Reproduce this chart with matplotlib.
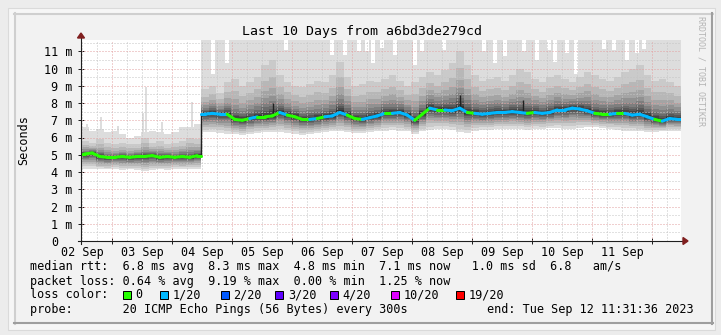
#!/usr/bin/env python3
# SmokePing style graph: 10 days of ping RTT with "smoke" and loss-coloured median
import datetime as dt
import numpy as np
import matplotlib
matplotlib.use('Agg')
import matplotlib.pyplot as plt
import matplotlib.transforms as mtransforms
from matplotlib.patches import Rectangle, Polygon
from matplotlib.lines import Line2D
from matplotlib.collections import LineCollection

W, H = 721, 335

start = dt.datetime(2023, 9, 2, 11, 31, 36)
span_hours = 240
step_hours = 3

# median rtt (ms), one value per 3 hours
median = [5.05, 5.1, 4.9, 4.85, 4.85, 4.9, 4.85, 4.9, 4.9, 4.95, 4.85, 4.9, 4.85, 4.9, 4.85, 4.95,
          7.35, 7.4, 7.35, 7.35, 7.05, 7.0, 7.1, 7.2, 7.2, 7.25,
          7.45, 7.3, 7.2, 7.05, 7.05, 7.1, 7.2, 7.25, 7.45, 7.3,
          7.1, 7.05, 7.15, 7.25, 7.4, 7.4, 7.45, 7.3, 7.0, 7.35,
          7.7, 7.6, 7.6, 7.55, 7.7, 7.45, 7.4, 7.35, 7.4, 7.45,
          7.45, 7.5, 7.45, 7.4, 7.45, 7.4, 7.45, 7.6, 7.6, 7.7,
          7.65, 7.55, 7.4, 7.35, 7.35, 7.4, 7.4, 7.3, 7.35, 7.2,
          7.05, 6.95, 7.1, 7.05]

# lost pings out of 20 -> index into loss_colors (0 = 0, 1 = 1/20)
loss = [0] * 16 + [1, 1, 1, 1, 0, 0, 0, 1, 0, 0,
                   0, 1, 0, 0, 0, 1, 0, 1, 1, 1,
                   0, 0, 1, 1, 1, 0, 1, 1, 1, 0,
                   0, 1, 0, 1, 1, 1, 0, 1, 1, 1,
                   1, 1, 1, 1, 0, 1, 1, 1, 1, 1,
                   1, 1, 1, 0, 0, 1, 0, 1, 1, 1,
                   1, 0, 1, 1]

# smoke: lowest ping, upper edge of the mid-grey part, highest ping
smoke_lo = [4.2, 4.2, 4.15, 4.15, 4.2, 4.1, 4.15, 4.1, 4.05, 4.1, 4.15, 4.1, 4.2, 4.15, 4.2, 4.2,
            6.3, 6.3, 6.25, 6.2, 6.2, 6.15, 6.2, 6.25, 6.3, 6.3,
            6.3, 6.25, 6.2, 6.15, 6.2, 6.25, 6.3, 6.35, 6.35, 6.3,
            6.25, 6.25, 6.3, 6.35, 6.4, 6.45, 6.4, 6.35, 6.2, 6.35,
            6.45, 6.5, 6.5, 6.45, 6.3, 6.25, 6.4, 6.45, 6.45, 6.5,
            6.5, 6.5, 6.5, 6.45, 6.5, 6.5, 6.55, 6.55, 6.5, 6.5,
            6.55, 6.6, 6.6, 6.55, 6.5, 6.45, 6.4, 6.4, 6.35, 6.3,
            6.3, 6.35, 6.4, 6.4]
smoke_mid = [5.8, 5.7, 5.9, 5.7, 5.6, 5.7, 5.6, 5.6, 6.0, 5.7, 5.8, 5.6, 5.7, 5.8, 6.0, 5.9,
             8.8, 9.0, 8.6, 9.2, 9.4, 9.0, 9.2, 9.5, 10.2, 10.5,
             9.6, 9.2, 9.0, 8.9, 9.1, 9.3, 9.2, 9.6, 10.4, 9.5,
             9.0, 9.1, 9.3, 9.2, 9.4, 9.6, 9.3, 9.0, 9.2, 9.5,
             9.8, 9.6, 9.9, 10.3, 11.0, 10.2, 9.6, 9.3, 9.4, 9.5,
             9.3, 9.6, 10.0, 9.8, 9.4, 9.2, 9.5, 9.6, 9.4, 9.2,
             9.5, 9.8, 9.6, 9.4, 9.3, 9.5, 9.8, 10.0, 10.2, 9.6,
             9.3, 9.4, 9.2, 9.0]
smoke_hi = [6.6, 6.4, 6.5, 6.3, 6.4, 6.2, 6.0, 6.1, 6.3, 6.4, 6.3, 6.2, 6.3, 6.6, 6.6, 6.8,
            11.7, 11.7, 11.7, 11.7, 11.7, 11.7, 11.7, 11.7, 11.7, 11.7,
            11.7, 11.7, 11.7, 11.7, 11.7, 11.7, 11.7, 11.7, 11.7, 11.7,
            11.7, 11.7, 11.7, 11.7, 11.7, 11.7, 11.7, 11.7, 11.7, 11.7,
            11.7, 11.7, 11.7, 11.7, 11.7, 11.7, 11.7, 11.7, 11.7, 11.7,
            11.7, 11.7, 11.7, 11.7, 11.7, 11.7, 11.7, 11.7, 11.7, 11.7,
            11.7, 11.7, 11.7, 11.7, 11.7, 11.7, 11.7, 11.7, 11.7, 11.7,
            11.7, 11.7, 11.7, 11.7]

# short-lived high pings (hour since start, ms)
spike_hours = [2.4, 8.0, 14.8, 24.8, 26.0, 32.4, 44.4]
spike_vals = [6.8, 7.2, 6.65, 7.4, 8.9, 6.9, 8.05]

# columns where the highest ping stays under the top of the chart
gap_hours = [52.6, 58.2, 81.8, 100.2, 105.4, 111.0, 114.2, 116.8, 120.2, 125.6, 133.6, 136.6,
             145.0, 161.0, 165.6, 169.6, 177.0, 182.4, 187.0, 189.4, 194.4, 197.8, 209.0,
             213.0, 218.4, 222.4, 225.0]
gap_tops = [9.7, 10.3, 11.05, 10.8, 10.8, 11.0, 11.0, 10.3, 11.2, 10.8, 10.2, 11.0,
            11.1, 11.0, 10.3, 10.7, 11.0, 10.5, 11.05, 10.4, 10.9, 9.7, 11.15,
            11.05, 10.5, 10.9, 11.15]

# one-sample median spikes
med_spike_hours = [76.8, 151.6, 176.8]
med_spike_vals = [8.0, 8.45, 8.15]

day_labels = ['02 Sep', '03 Sep', '04 Sep', '05 Sep', '06 Sep',
              '07 Sep', '08 Sep', '09 Sep', '10 Sep', '11 Sep']
y_labels = ['0', '1 m', '2 m', '3 m', '4 m', '5 m', '6 m',
            '7 m', '8 m', '9 m', '10 m', '11 m']

loss_names = ['0', '1/20', '2/20', '3/20', '4/20', '10/20', '19/20']
loss_colors = ['#26ff00', '#00b8ff', '#0059ff', '#5e00ff', '#7e00ff', '#dd00ff', '#ff0000']

legend_rtt = "median rtt:  6.8 ms avg  8.3 ms max  4.8 ms min  7.1 ms now   1.0 ms sd  6.8   am/s"
legend_loss = "packet loss: 0.64 % avg  9.19 % max  0.00 % min  1.25 % now"
legend_probe = "probe:       20 ICMP Echo Pings (56 Bytes) every 300s"
legend_end = "end: Tue Sep 12 11:31:36 2023"

plt.rcParams['font.family'] = ['DejaVu Sans Mono']
FS = 8.45


def fp(x, y):
    """pixel position (from top-left) -> figure fraction"""
    return x / W, 1 - y / H


fig = plt.figure(figsize=(W / 100, H / 100), dpi=100, facecolor='#ececec')

# page panel and rrdtool image background with its 3d border
fig.patches.append(Rectangle(fp(8, 330), 707 / W, 322 / H, transform=fig.transFigure,
                             facecolor='#f6f6f6', edgecolor='#dadada', lw=0.8, zorder=-3))
fig.patches.append(Rectangle(fp(14, 324), 699 / W, 311 / H, transform=fig.transFigure,
                             facecolor='#f2f2f2', edgecolor='none', zorder=-2))
for (x0, y0, x1, y1, c) in [(14, 14, 713, 14, '#cfcfcf'), (15, 13, 15, 324, '#cfcfcf'),
                            (14, 323, 713, 323, '#9e9e9e'), (711.5, 13, 711.5, 324, '#9e9e9e')]:
    fig.lines.append(Line2D([fp(x0, y0)[0], fp(x1, y1)[0]], [fp(x0, y0)[1], fp(x1, y1)[1]],
                            transform=fig.transFigure, color=c, lw=1.5, zorder=-1))

ax = fig.add_axes([81 / W, 1 - 241 / H, 600 / W, 201 / H])
ax.set_zorder(1)
ax.set_facecolor('white')
ax.set_xlim(0, span_hours)
ytop = 201 / 17.25
ax.set_ylim(0, ytop)
for s in ax.spines.values():
    s.set_visible(False)

med = np.array(median)
lo = np.array(smoke_lo)
mid = np.array(smoke_mid)
hi = np.array(smoke_hi)
t = np.arange(len(med)) * step_hours
te = np.append(t, span_hours)


def ext(a):
    return np.append(a, a[-1])


# thin high pings under the smoke
spike_base = [median[int(h // step_hours)] for h in spike_hours]
ax.bar(spike_hours, np.array(spike_vals) - np.array(spike_base), bottom=spike_base,
       width=1.0, color='#dddddd', lw=0, zorder=1)

# smoke, outer pair lightest, inner pairs darker (smokeping grey ramp)
shades = [221, 202, 183, 164, 145, 126, 107, 88, 69, 50]
low_frac = [1.0, 0.85, 0.7, 0.57, 0.45, 0.35, 0.26, 0.18, 0.11, 0.05]
up_frac = [None, 1.0, 0.7, 0.5, 0.36, 0.26, 0.18, 0.12, 0.08, 0.04]
for k, g in enumerate(shades):
    lower = med - (med - lo) * low_frac[k]
    upper = hi if k == 0 else med + (mid - med) * up_frac[k]
    ax.fill_between(te, ext(lower), ext(upper), step='post', color='#%02x%02x%02x' % (g, g, g),
                    lw=0, antialiased=False, zorder=1.1 + k * 0.01)

ax.bar(gap_hours, ytop - np.array(gap_tops), bottom=gap_tops, width=1.6,
       color='white', lw=0, zorder=1.3)

# grid: minor every 6h / 0.5 ms, major at midnight / 1 ms (dotted)
first_mark = ((start.replace(hour=12, minute=0, second=0) - start).total_seconds()) / 3600
grid_minor, grid_major = '#c4c4c4', '#e3a0a0'
for h in np.arange(first_mark, span_hours, 6):
    major = abs(((h - first_mark) % 24) - 12) < 1e-6
    ax.axvline(h, color=grid_major if major else grid_minor, lw=0.72, ls=(0, (1, 2)),
               zorder=2)
for v in np.arange(0.5, ytop, 0.5):
    major = abs(v - round(v)) < 1e-6
    ax.axhline(v, color=grid_major if major else grid_minor, lw=0.72, ls=(0, (1, 2)),
               zorder=2)

# median: loss-coloured line through the sample centres
cx = t + step_hours / 2
segs, cols, jumps = [[(0, med[0]), (cx[0], med[0])]], [loss_colors[loss[0]]], []
for i in range(1, len(med)):
    if abs(med[i] - med[i - 1]) > 1:
        b = t[i]
        segs += [[(cx[i - 1], med[i - 1]), (b, med[i - 1])], [(b, med[i]), (cx[i], med[i])]]
        cols += [loss_colors[loss[i - 1]], loss_colors[loss[i]]]
        jumps.append((b, med[i - 1], med[i]))
    else:
        segs.append([(cx[i - 1], med[i - 1]), (cx[i], med[i])])
        cols.append(loss_colors[loss[i]])
segs.append([(cx[-1], med[-1]), (span_hours, med[-1])])
cols.append(loss_colors[loss[-1]])
for b, y0, y1 in jumps:
    ax.vlines(b, y0, y1, color='#202020', lw=1.0, zorder=3)
ax.vlines(med_spike_hours, [median[int(h // step_hours)] for h in med_spike_hours],
          med_spike_vals, color='#202020', lw=1.0, zorder=3)
ax.add_collection(LineCollection(segs, colors=cols, linewidths=2.2, capstyle='round', zorder=4))

# ticks and labels
ax.set_yticks(range(len(y_labels)))
ax.set_yticklabels(y_labels)
ax.set_xticks([first_mark + 24 * k for k in range(len(day_labels))])
ax.set_xticklabels(day_labels)
ax.set_xticks([first_mark + 12 + 24 * k for k in range(len(day_labels))], minor=True)
ax.tick_params(axis='y', direction='inout', length=4, width=0.72, color='#1f1f1f',
               pad=4.3, labelsize=FS)
ax.tick_params(axis='x', which='major', length=0, pad=3.6, labelsize=FS)
ax.tick_params(axis='x', which='minor', direction='inout', length=4, width=0.72, color='#1f1f1f')
# the bare "0" sits in the digit column of the "n m" labels (two characters to the left)
char_w = 0.602 * FS / 72
zero_lab = ax.yaxis.get_majorticklabels()[0]
zero_lab.set_transform(zero_lab.get_transform()
                       + mtransforms.ScaledTranslation(-2 * char_w, 0, fig.dpi_scale_trans))

# axes with arrows
fig.lines.append(Line2D([fp(78, 0)[0], fp(684, 0)[0]], [fp(0, 241)[1]] * 2,
                        transform=fig.transFigure, color='#1f1f1f', lw=0.8, zorder=5))
fig.lines.append(Line2D([fp(81, 0)[0]] * 2, [fp(0, 244)[1], fp(0, 37)[1]],
                        transform=fig.transFigure, color='#1f1f1f', lw=0.8, zorder=5))
fig.patches.append(Polygon([fp(683, 237.5), fp(683, 244.5), fp(688, 241)], closed=True,
                           transform=fig.transFigure, color='#801f1f', zorder=5))
fig.patches.append(Polygon([fp(77.5, 38), fp(84.5, 38), fp(81, 33)], closed=True,
                           transform=fig.transFigure, color='#801f1f', zorder=5))

# titles
fig.text(*fp(362, 32), 'Last 10 Days from a6bd3de279cd', ha='center', va='center', size=9.5)
fig.text(*fp(24, 140), 'Seconds', rotation=90, ha='center', va='center', size=FS)
fig.text(*fp(700.5, 16), 'RRDTOOL / TOBI OETIKER', rotation=270, ha='center', va='top',
         size=6, color='#b4b4b4')

# legend
fig.text(*fp(29.5, 266.5), legend_rtt, va='center', size=FS)
fig.text(*fp(29.5, 281), legend_loss, va='center', size=FS)
fig.text(*fp(29.5, 295), 'loss color:', va='center', size=FS)
fig.text(*fp(29.5, 309.5), legend_probe, va='center', size=FS)
fig.text(*fp(694, 309.5), legend_end, ha='right', va='center', size=FS)
box_left = [122.7, 160, 220.7, 275.3, 330, 391, 456]
for bx, name, col in zip(box_left, loss_names, loss_colors):
    fig.patches.append(Rectangle(fp(bx, 299), 8 / W, 8 / H, transform=fig.transFigure,
                                 facecolor=col, edgecolor='black', lw=0.72, zorder=5))
    fig.text(*fp(bx + 12.5, 295), name, va='center', size=FS)

fig.savefig('out.png', dpi=100, facecolor=fig.get_facecolor())
